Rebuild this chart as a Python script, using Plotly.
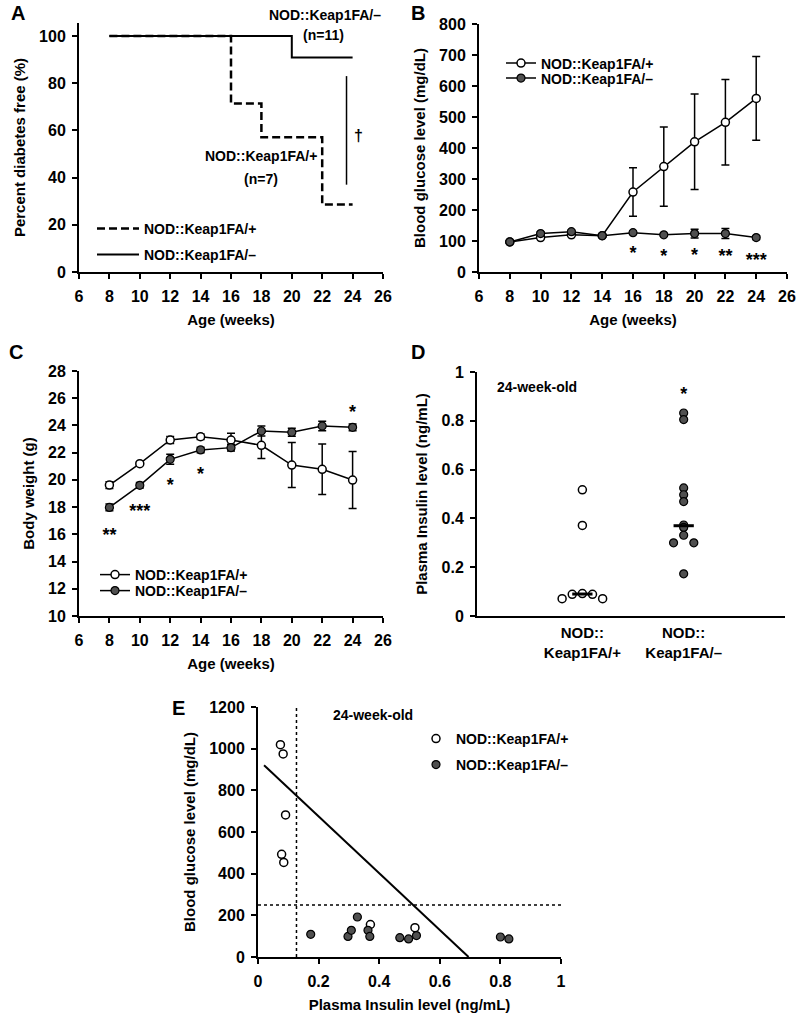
import plotly.graph_objects as go

FONT = "Liberation Sans, Arial, sans-serif"
HET = "NOD::Keap1FA/+"
KO = "NOD::Keap1FA/\u2013"
FILL = "#505050"

# A: percent diabetes free
surv_weeks_het = [8, 16, 18, 22, 24]
surv_het = [100, 71.4, 57.1, 28.6, 28.6]
surv_weeks_ko = [8, 20, 24]
surv_ko = [100, 90.9, 90.9]

# B: blood glucose
weeks = [8, 10, 12, 14, 16, 18, 20, 22, 24]
glu_het = [97, 111, 120, 117, 258, 340, 420, 483, 560]
glu_het_err = [0, 0, 0, 0, 78, 128, 154, 138, 135]
glu_ko = [97, 124, 130, 117, 127, 120, 124, 124, 111]
glu_ko_err = [3, 5, 5, 3, 5, 4, 14, 16, 6]
glu_star_weeks = [16, 18, 20, 22, 24]
glu_star_y = [55, 47, 49, 48, 35]
glu_stars = ["*", "*", "*", "**", "***"]

# C: body weight
bw_het = [19.62, 21.19, 22.93, 23.17, 22.93, 22.54, 21.09, 20.78, 19.99]
bw_het_err = [0.25, 0.1, 0.25, 0.2, 0.5, 0.96, 1.65, 1.86, 2.1]
bw_ko = [17.98, 19.6, 21.51, 22.2, 22.37, 23.59, 23.5, 23.96, 23.86]
bw_ko_err = [0.25, 0.2, 0.37, 0.2, 0.25, 0.37, 0.3, 0.35, 0.25]
bw_star_weeks = [8, 10, 12, 14, 24]
bw_star_y = [15.85, 17.6, 19.5, 20.3, 24.9]
bw_stars = ["**", "***", "*", "*", "*"]

# D: plasma insulin, 24-week-old
ins_het = [0.517, 0.371, 0.071, 0.089, 0.092, 0.089, 0.071]
ins_het_pos = [1, 1, 0.8, 0.9, 1, 1.1, 1.2]
ins_ko = [0.832, 0.805, 0.525, 0.497, 0.469, 0.373, 0.363, 0.331, 0.30, 0.30, 0.173]
ins_ko_pos = [2, 2, 2, 2, 2, 2, 2, 2, 1.9, 2.1, 2]
median_het = 0.09
median_ko = 0.37

# E: glucose vs insulin
e_ins_het = [0.074, 0.083, 0.091, 0.078, 0.085, 0.371, 0.518]
e_glu_het = [1019, 975, 682, 493, 454, 156, 141]
e_ins_ko = [0.174, 0.297, 0.308, 0.328, 0.363, 0.369, 0.468, 0.497, 0.523, 0.80, 0.828]
e_glu_ko = [109, 99, 128, 192, 128, 99, 93, 87, 103, 96, 87]
fit_x = [0.02, 0.695]
fit_y = [920, 0]
ins_cut = 0.127
glu_cut = 250

open_marker = dict(symbol="circle", size=8, color="white", line=dict(color="black", width=1.5))
fill_marker = dict(symbol="circle", size=8, color=FILL, line=dict(color="black", width=1.2))


def err(arr):
    return dict(type="data", array=arr, color="black", thickness=1.5, width=4)


fig = go.Figure()

# A
fig.add_trace(go.Scatter(x=surv_weeks_het, y=surv_het, mode="lines", line_shape="hv",
                         line=dict(color="black", width=2.5, dash="8px,4px"), name=HET,
                         xaxis="x", yaxis="y", legend="legend"))
fig.add_trace(go.Scatter(x=surv_weeks_ko, y=surv_ko, mode="lines", line_shape="hv",
                         line=dict(color="black", width=2), name=KO,
                         xaxis="x", yaxis="y", legend="legend2"))

# B
fig.add_trace(go.Scatter(x=weeks, y=glu_het, mode="lines+markers", error_y=err(glu_het_err),
                         line=dict(color="black", width=1.5), marker=open_marker, name=HET,
                         xaxis="x2", yaxis="y2", legend="legend3"))
fig.add_trace(go.Scatter(x=weeks, y=glu_ko, mode="lines+markers", error_y=err(glu_ko_err),
                         line=dict(color="black", width=1.5), marker=fill_marker, name=KO,
                         xaxis="x2", yaxis="y2", legend="legend4"))
fig.add_trace(go.Scatter(x=glu_star_weeks, y=glu_star_y, mode="text", text=glu_stars,
                         textfont=dict(size=18), showlegend=False, xaxis="x2", yaxis="y2"))

# C
fig.add_trace(go.Scatter(x=weeks, y=bw_het, mode="lines+markers", error_y=err(bw_het_err),
                         line=dict(color="black", width=1.5), marker=open_marker, name=HET,
                         xaxis="x3", yaxis="y3", legend="legend5"))
fig.add_trace(go.Scatter(x=weeks, y=bw_ko, mode="lines+markers", error_y=err(bw_ko_err),
                         line=dict(color="black", width=1.5), marker=fill_marker, name=KO,
                         xaxis="x3", yaxis="y3", legend="legend6"))
fig.add_trace(go.Scatter(x=bw_star_weeks, y=bw_star_y, mode="text", text=bw_stars,
                         textfont=dict(size=18), showlegend=False, xaxis="x3", yaxis="y3"))

# D
fig.add_trace(go.Scatter(x=ins_het_pos, y=ins_het, mode="markers", marker=open_marker,
                         showlegend=False, xaxis="x4", yaxis="y4"))
fig.add_trace(go.Scatter(x=ins_ko_pos, y=ins_ko, mode="markers", marker=fill_marker,
                         showlegend=False, xaxis="x4", yaxis="y4"))
fig.add_trace(go.Scatter(x=[0.9, 1.1], y=[median_het, median_het], mode="lines",
                         line=dict(color="black", width=3), showlegend=False, xaxis="x4", yaxis="y4"))
fig.add_trace(go.Scatter(x=[1.9, 2.1], y=[median_ko, median_ko], mode="lines",
                         line=dict(color="black", width=3), showlegend=False, xaxis="x4", yaxis="y4"))
fig.add_trace(go.Scatter(x=[2], y=[0.905], mode="text", text=["*"], textfont=dict(size=18),
                         showlegend=False, xaxis="x4", yaxis="y4"))

# E
fig.add_trace(go.Scatter(x=fit_x, y=fit_y, mode="lines", line=dict(color="black", width=2),
                         showlegend=False, xaxis="x5", yaxis="y5"))
fig.add_trace(go.Scatter(x=e_ins_het, y=e_glu_het, mode="markers", marker=open_marker, name=HET,
                         xaxis="x5", yaxis="y5", legend="legend7"))
fig.add_trace(go.Scatter(x=e_ins_ko, y=e_glu_ko, mode="markers", marker=fill_marker, name=KO,
                         xaxis="x5", yaxis="y5", legend="legend8"))

H = 1016.0
W = 800.0


def dom_x(a, b):
    return [a / W, b / W]


def dom_y(top, bottom):
    return [1 - bottom / H, 1 - top / H]


ax = dict(showline=True, linecolor="black", linewidth=2, ticks="outside", ticklen=5,
          tickwidth=2, tickcolor="black", showgrid=False, zeroline=False, automargin=False,
          tickfont=dict(size=16), title_font=dict(size=15))

xax = dict(ax, ticklabelstandoff=4, title_standoff=10)
yax = dict(ax, ticklabelstandoff=3, title_standoff=10)

week_axis = dict(xax, range=[6, 26], tickvals=list(range(6, 27, 2)), title_text="Age (weeks)")

layout = dict(
    width=800, height=1016, margin=dict(l=0, r=0, t=0, b=0, autoexpand=False),
    paper_bgcolor="white", plot_bgcolor="white",
    font=dict(family=FONT, size=15, color="black", weight="bold"),
    xaxis=dict(week_axis, domain=dom_x(79, 383), anchor="y"),
    yaxis=dict(yax, domain=dom_y(23, 272), range=[0, 105.5], tickvals=list(range(0, 101, 20)),
               title_text="Percent diabetes free (%)", anchor="x"),
    xaxis2=dict(week_axis, domain=dom_x(479, 787), anchor="y2"),
    yaxis2=dict(yax, domain=dom_y(24, 272), range=[0, 800], dtick=100,
                title_text="Blood glucose level (mg/dL)", anchor="x2"),
    xaxis3=dict(week_axis, domain=dom_x(79, 383), anchor="y3"),
    yaxis3=dict(yax, domain=dom_y(371, 616), range=[10, 28], dtick=2,
                title_text="Body weight (g)", anchor="x3"),
    xaxis4=dict(xax, domain=dom_x(477, 785), anchor="y4", range=[-0.04, 3.0], ticks="",
                ticklabelstandoff=2, tickfont=dict(size=15),
                tickvals=[1, 2], ticktext=["NOD::<br>Keap1FA/+", "NOD::<br>Keap1FA/\u2013"]),
    yaxis4=dict(yax, domain=dom_y(372, 616), range=[0, 1], dtick=0.2,
                title_text="Plasma Insulin level (ng/mL)", anchor="x4"),
    xaxis5=dict(xax, domain=dom_x(258, 561), anchor="y5", range=[0, 1], dtick=0.2,
                title_text="Plasma Insulin level (ng/mL)"),
    yaxis5=dict(yax, domain=dom_y(707, 957), range=[0, 1200], dtick=200,
                title_text="Blood glucose level (mg/dL)", anchor="x5"),
)

leg = dict(bgcolor="rgba(0,0,0,0)", borderwidth=0, font=dict(size=14),
           xanchor="left", yanchor="middle", itemclick=False)
legend_pos = {
    "legend": (92, 229, 42), "legend2": (92, 255, 42),
    "legend3": (501, 63.5, 30), "legend4": (501, 78.5, 30),
    "legend5": (95, 575, 30), "legend6": (95, 591, 30),
    "legend7": (416, 739, 30), "legend8": (416, 765, 30),
}
for key, (lx, ly, iw) in legend_pos.items():
    layout[key] = dict(leg, x=lx / W, y=1 - ly / H, itemwidth=iw)

fig.update_layout(**layout)

# Panel letters
for letter, px, py in [("A", 18, 13), ("B", 418, 13), ("C", 16, 352), ("D", 418, 352), ("E", 178, 708)]:
    fig.add_annotation(text=letter, x=px / W, y=1 - py / H, xref="paper", yref="paper",
                       showarrow=False, font=dict(size=20), xanchor="center", yanchor="middle")

# Panel A texts
fig.add_annotation(text=KO, x=325 / W, y=1 - 15 / H, xref="paper", yref="paper", showarrow=False,
                   font=dict(size=14), xanchor="center", yanchor="middle")
a_notes = [("(n=11)", 22.1, 100.5), (HET, 18.0, 49), ("(n=7)", 18.0, 39.5)]
for t, x, y in a_notes:
    fig.add_annotation(text=t, x=x, y=y, xref="x", yref="y", showarrow=False, font=dict(size=14),
                       xanchor="center", yanchor="middle")
fig.add_annotation(text="\u2020", x=24.4, y=58, xref="x", yref="y", showarrow=False,
                   font=dict(size=16), xanchor="center", yanchor="middle")
fig.add_shape(type="line", x0=23.6, x1=23.6, y0=83, y1=37, xref="x", yref="y",
              line=dict(color="black", width=1.5))

fig.add_annotation(text="24-week-old", x=0.55, y=0.94, xref="x4", yref="y4", showarrow=False,
                   font=dict(size=14), xanchor="center", yanchor="middle")
fig.add_annotation(text="24-week-old", x=0.38, y=1160, xref="x5", yref="y5", showarrow=False,
                   font=dict(size=14), xanchor="center", yanchor="middle")

# Panel E cut-off lines
fig.add_shape(type="line", x0=ins_cut, x1=ins_cut, y0=0, y1=1, xref="x5", yref="y5 domain",
              line=dict(color="black", width=1.5, dash="dot"))
fig.add_shape(type="line", x0=0, x1=1, y0=glu_cut, y1=glu_cut, xref="x5 domain", yref="y5",
              line=dict(color="black", width=1.5, dash="dot"))

# the page body has a default 8px margin; drop it so the 800x1016 figure fills the window
fig.write_html("out.html", config={"displayModeBar": False},
               post_script="document.body.style.margin = '0';")
